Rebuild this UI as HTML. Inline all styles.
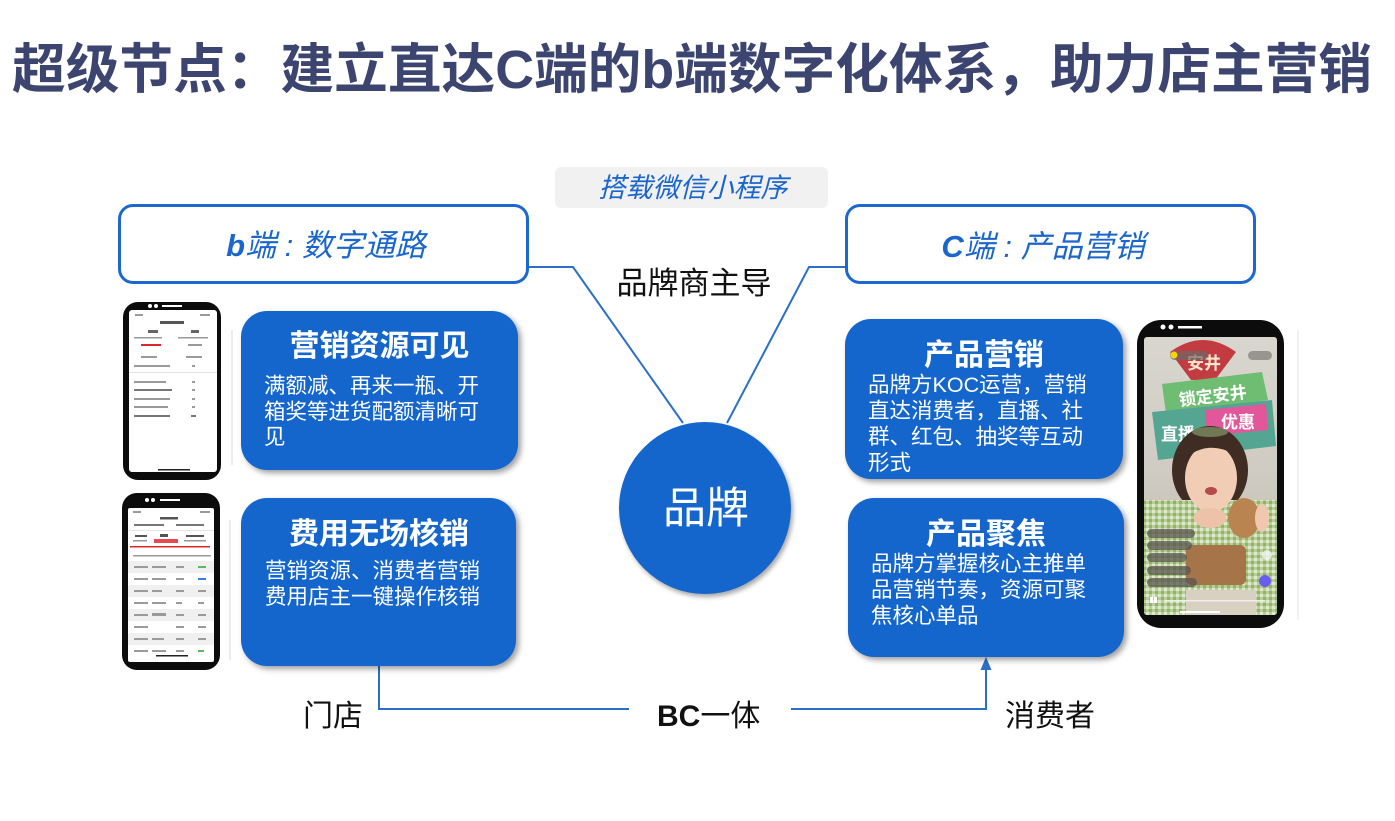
<!DOCTYPE html>
<html><head><meta charset="utf-8">
<style>
html,body{margin:0;padding:0;background:#fff;}
body{width:1395px;height:821px;position:relative;overflow:hidden;font-family:"Liberation Sans","Noto Sans CJK SC",sans-serif;}
.t{position:absolute;white-space:nowrap;}
.box{position:absolute;background:#1466cc;border-radius:26px;box-shadow:3px 3px 6px rgba(0,0,0,0.38);}
.ob{position:absolute;border:3px solid #1b68cf;border-radius:15px;background:#fff;box-sizing:border-box;}
.w{color:#fff;font-size:21.5px;line-height:21.5px;}
.h{color:#fff;font-size:30px;line-height:30px;font-weight:bold;text-align:center;}
.bl{color:#111;font-size:30px;line-height:30px;}
</style></head><body>

<!-- Title -->
<div class="t" style="left:12px;top:44px;font-size:53.7px;line-height:53.7px;font-weight:bold;color:#3c4470;">超级节点：建立直达C端的b端数字化体系，助力店主营销</div>

<!-- gray label -->
<div style="position:absolute;left:555px;top:167px;width:273px;height:41px;background:#f1f1f1;border-radius:6px;"></div>
<div class="t" style="left:555px;width:276px;top:174.5px;font-size:27px;line-height:27px;color:#1a66cc;font-style:italic;text-align:center;">搭载微信小程序</div>

<!-- outline boxes -->
<div class="ob" style="left:118px;top:204px;width:411px;height:80px;"></div>
<div class="ob" style="left:845px;top:204px;width:411px;height:80px;"></div>
<div class="t" style="left:126px;width:400px;top:229.5px;font-size:31px;line-height:31px;color:#1a66cc;font-style:italic;text-align:center;"><b>b</b>端 : 数字通路</div>
<div class="t" style="left:843px;width:400px;top:230.5px;font-size:31px;line-height:31px;color:#1a66cc;font-style:italic;text-align:center;"><b>C</b>端 : 产品营销</div>

<!-- SVG lines and phones -->
<svg width="1395" height="821" style="position:absolute;left:0;top:0;" xmlns="http://www.w3.org/2000/svg">
  <g fill="none" stroke="#2b70c8" stroke-width="2">
    <polyline points="529,267 573,267 683,423"/>
    <polyline points="727,423 809,267 845,267"/>
    <polyline points="379,666 379,709 629,709"/>
    <polyline points="791,709 986,709 986,668"/>
  </g>
  <polygon points="986,657 980.5,670 991.5,670" fill="#2b70c8"/>

  <line x1="232" y1="330" x2="232" y2="465" stroke="#d8d8d8" stroke-width="1"/>
  <line x1="230" y1="520" x2="230" y2="660" stroke="#d8d8d8" stroke-width="1"/>
  <line x1="1298" y1="330" x2="1298" y2="620" stroke="#e6e6e6" stroke-width="1"/>

  <!-- left phone 1 -->
  <rect x="123" y="302" width="98" height="178" rx="15" fill="#0c0c0c"/>
  <rect x="129" y="310" width="88" height="162" rx="3" fill="#fff"/>
  <circle cx="150" cy="306" r="2" fill="#fff"/><circle cx="156" cy="306" r="2" fill="#fff"/>
  <rect x="162" y="305" width="20" height="2" fill="#fff"/>
  <g fill="#9a9a9a">
    <rect x="135" y="314" width="8" height="2"/><rect x="200" y="314" width="10" height="2"/>
    <rect x="160" y="321" width="24" height="3" fill="#555"/>
    <rect x="148" y="330" width="10" height="3" fill="#666"/><rect x="191" y="330" width="8" height="3" fill="#666"/>
    <rect x="134" y="337" width="28" height="1.5"/><rect x="178" y="337" width="30" height="1.5"/>
    <rect x="141" y="344" width="20" height="2" fill="#e0262b"/><rect x="188" y="344" width="14" height="2"/>
    <rect x="141" y="356" width="16" height="2"/><rect x="186" y="356" width="16" height="2"/>
    <rect x="134" y="365" width="36" height="2"/><rect x="192" y="365" width="3" height="2"/>
    <rect x="129" y="372" width="88" height="0.8" fill="#ddd"/>
    <rect x="134" y="381" width="32" height="2"/><rect x="192" y="381" width="3" height="2"/>
    <rect x="134" y="389" width="38" height="2" fill="#777"/><rect x="192" y="389" width="3" height="2"/>
    <rect x="134" y="398" width="36" height="2"/><rect x="192" y="398" width="3" height="2"/>
    <rect x="134" y="406" width="34" height="2"/><rect x="192" y="406" width="3" height="2"/>
    <rect x="134" y="415" width="36" height="2" fill="#777"/><rect x="191" y="415" width="5" height="2" fill="#777"/>
    <rect x="158" y="469" width="32" height="1.5" fill="#222"/>
  </g>

  <!-- left phone 2 -->
  <rect x="122" y="493" width="98" height="177" rx="15" fill="#0c0c0c"/>
  <rect x="128" y="508" width="86" height="154" rx="2" fill="#fff"/>
  <circle cx="147" cy="500" r="2" fill="#fff"/><circle cx="153" cy="500" r="2" fill="#fff"/>
  <rect x="160" y="499" width="20" height="2" fill="#fff"/>
  <g fill="#9a9a9a">
    <rect x="133" y="511" width="8" height="2"/><rect x="200" y="511" width="10" height="2"/>
    <rect x="160" y="517" width="18" height="2.5" fill="#555"/>
    <rect x="134" y="524" width="30" height="2" fill="#777"/><rect x="176" y="524" width="28" height="2" fill="#777"/>
    <rect x="128" y="530" width="86" height="0.8" fill="#ddd"/>
    <rect x="135" y="535" width="12" height="2" fill="#555"/><rect x="160" y="534" width="8" height="3" fill="#555"/><rect x="186" y="535" width="18" height="2" fill="#555"/>
    <rect x="133" y="540" width="14" height="1.5"/><rect x="154" y="539" width="24" height="4" fill="#e84a4f"/><rect x="184" y="540" width="22" height="1.5"/>
    <rect x="130" y="546" width="80" height="1.5" fill="#e0262b"/>
    <rect x="133" y="555" width="78" height="1.5"/>
    <rect x="128" y="561" width="86" height="12" fill="#f0f0f0"/>
    <rect x="128" y="585" width="86" height="12" fill="#f0f0f0"/>
    <rect x="128" y="609" width="86" height="12" fill="#f0f0f0"/>
    <rect x="128" y="633" width="86" height="12" fill="#f0f0f0"/>
    <rect x="134" y="566" width="14" height="2"/><rect x="152" y="566" width="14" height="2"/><rect x="176" y="566" width="8" height="2"/><rect x="198" y="566" width="8" height="2" fill="#5cb85c"/>
    <rect x="134" y="578" width="14" height="2"/><rect x="152" y="578" width="14" height="2"/><rect x="176" y="578" width="8" height="2"/><rect x="198" y="578" width="8" height="2" fill="#3b7ddd"/>
    <rect x="134" y="590" width="14" height="2"/><rect x="152" y="590" width="10" height="2"/><rect x="176" y="590" width="8" height="2"/><rect x="198" y="590" width="8" height="2"/>
    <rect x="134" y="602" width="14" height="2"/><rect x="152" y="602" width="14" height="2"/><rect x="176" y="602" width="6" height="2"/><rect x="198" y="602" width="6" height="2"/>
    <rect x="134" y="614" width="14" height="2"/><rect x="152" y="613" width="14" height="3"/><rect x="176" y="614" width="8" height="2"/><rect x="198" y="614" width="8" height="2"/>
    <rect x="134" y="626" width="14" height="2"/><rect x="176" y="626" width="8" height="2"/><rect x="198" y="626" width="8" height="2"/>
    <rect x="134" y="638" width="14" height="2"/><rect x="152" y="638" width="12" height="2"/><rect x="176" y="638" width="8" height="2"/><rect x="198" y="638" width="8" height="2"/>
    <rect x="134" y="650" width="14" height="2"/><rect x="152" y="650" width="14" height="2"/><rect x="176" y="650" width="8" height="2"/><rect x="198" y="650" width="6" height="2" fill="#5cb85c"/>
    <rect x="156" y="655" width="32" height="1.5" fill="#222"/>
  </g>

  <!-- right phone -->
  <rect x="1137" y="320" width="147" height="308" rx="24" fill="#0c0c0c"/>
  <defs>
    <clipPath id="scr"><rect x="1144" y="337" width="133" height="278" rx="3"/></clipPath>
    <linearGradient id="bg" x1="0" y1="0" x2="0" y2="1">
      <stop offset="0" stop-color="#d9d6cf"/><stop offset="0.5" stop-color="#cfcbc3"/><stop offset="1" stop-color="#b9b59f"/>
    </linearGradient>
    <pattern id="chk" width="6" height="6" patternUnits="userSpaceOnUse">
      <rect width="6" height="6" fill="#b7cf94"/><rect width="3" height="3" fill="#dfe8cf"/><rect x="3" y="3" width="3" height="3" fill="#8fb46a"/>
    </pattern>
  </defs>
  <circle cx="1163" cy="327" r="2.5" fill="#fff"/><circle cx="1171" cy="327" r="2.5" fill="#fff"/>
  <rect x="1178" y="326" width="24" height="2.5" fill="#fff"/>
  <g clip-path="url(#scr)">
    <rect x="1144" y="337" width="133" height="278" fill="url(#bg)"/>
    <path d="M1170,352 Q1203,328 1236,352 L1215,380 L1191,380 Z" fill="#c23b40"/>
    <text x="1204" y="369" font-size="17" fill="#f5e6d0" text-anchor="middle" font-family="Noto Sans CJK SC, sans-serif" font-weight="bold">安井</text>
    <rect x="1170" y="351" width="38" height="9" rx="4.5" fill="#6c6a66" opacity="0.7"/>
    <circle cx="1174" cy="355" r="3.5" fill="#f5d400"/>
    <rect x="1248" y="351" width="24" height="9" rx="4.5" fill="#6c6a66" opacity="0.6"/>
    <polygon points="1162,384 1262,372 1268,400 1166,414" fill="#6ebd72"/>
    <text x="1213" y="402" font-size="17" fill="#fff" text-anchor="middle" font-family="Noto Sans CJK SC, sans-serif" font-weight="bold" transform="rotate(-7 1213 398)">锁定安井</text>
    <polygon points="1152,412 1272,400 1276,446 1158,460" fill="#55a593"/>
    <polygon points="1205,410 1266,404 1268,430 1207,436" fill="#e2569a"/>
    <text x="1178" y="440" font-size="17" fill="#fff" text-anchor="middle" font-family="Noto Sans CJK SC, sans-serif" font-weight="bold">直播</text>
    <text x="1238" y="428" font-size="17" fill="#fff" text-anchor="middle" font-family="Noto Sans CJK SC, sans-serif" font-weight="bold">优惠</text>
    <ellipse cx="1210" cy="470" rx="38" ry="44" fill="#3f2c22"/>
    <rect x="1144" y="500" width="133" height="115" fill="url(#chk)"/>
    <ellipse cx="1211" cy="478" rx="26" ry="34" fill="#f2cdb6"/>
    <ellipse cx="1210" cy="518" rx="16" ry="10" fill="#eec2a8"/>
    <path d="M1188,448 Q1210,430 1236,448 L1236,455 Q1210,440 1188,456 Z" fill="#3f2c22"/>
    <ellipse cx="1210" cy="432" rx="18" ry="5" fill="#6f7a55"/>
    <ellipse cx="1211" cy="491" rx="6" ry="4" fill="#b54a4a"/>
    <ellipse cx="1244" cy="518" rx="16" ry="20" fill="#b9844f"/>
    <ellipse cx="1262" cy="518" rx="7" ry="14" fill="#f0c8b0"/>
    <rect x="1186" y="545" width="60" height="40" rx="6" fill="#a57448"/>
    <rect x="1186" y="590" width="70" height="25" fill="#d8d0c0"/>
    <g fill="#5a5550" opacity="0.75">
      <rect x="1147" y="529" width="48" height="9" rx="4.5"/>
      <rect x="1147" y="541" width="45" height="9" rx="4.5"/>
      <rect x="1147" y="553" width="40" height="9" rx="4.5"/>
      <rect x="1147" y="566" width="44" height="9" rx="4.5"/>
      <rect x="1147" y="578" width="50" height="9" rx="4.5"/>
    </g>
    <circle cx="1267" cy="555" r="5" fill="#f4f4f4" opacity="0.8"/>
    <circle cx="1265" cy="581" r="6" fill="#6b5cf0"/>
    <rect x="1150" y="597" width="3" height="6" fill="#fff"/><rect x="1154" y="597" width="3" height="6" fill="#fff"/>
    <rect x="1165" y="600" width="100" height="1.5" fill="#eee"/>
    <rect x="1180" y="611" width="40" height="2" fill="#fff"/>
  </g>
</svg>

<!-- center circle -->
<div style="position:absolute;left:619px;top:422px;width:172px;height:172px;border-radius:50%;background:#1466cc;box-shadow:2px 3px 5px rgba(0,0,0,0.35);"></div>
<div class="t" style="left:620px;width:172px;top:488px;font-size:43px;line-height:43px;color:#fff;text-align:center;">品牌</div>

<div class="t" style="left:594px;width:200px;top:268px;font-size:31px;line-height:31px;color:#111;text-align:center;">品牌商主导</div>

<!-- blue boxes -->
<div class="box" style="left:241px;top:311px;width:277px;height:159px;"></div>
<div class="box" style="left:241px;top:498px;width:275px;height:168px;"></div>
<div class="box" style="left:845px;top:319px;width:278px;height:160px;"></div>
<div class="box" style="left:848px;top:498px;width:276px;height:159px;"></div>

<!-- L1 -->
<div class="t h" style="left:241px;width:277px;top:332px;">营销资源可见</div>
<div class="t w" style="left:264px;top:376px;">满额减、再来一瓶、开</div>
<div class="t w" style="left:264px;top:401.5px;">箱奖等进货配额清晰可</div>
<div class="t w" style="left:264px;top:427px;">见</div>

<!-- L2 -->
<div class="t h" style="left:241px;width:276px;top:520px;">费用无场核销</div>
<div class="t w" style="left:265px;top:561px;">营销资源、消费者营销</div>
<div class="t w" style="left:265px;top:587px;">费用店主一键操作核销</div>

<!-- R1 -->
<div class="t h" style="left:845px;width:278px;top:341px;">产品营销</div>
<div class="t w" style="left:868px;top:375px;">品牌方KOC运营，营销</div>
<div class="t w" style="left:868px;top:400.5px;">直达消费者，直播、社</div>
<div class="t w" style="left:868px;top:426.5px;">群、红包、抽奖等互动</div>
<div class="t w" style="left:868px;top:452.5px;">形式</div>

<!-- R2 -->
<div class="t h" style="left:848px;width:276px;top:519.5px;">产品聚焦</div>
<div class="t w" style="left:871px;top:554px;">品牌方掌握核心主推单</div>
<div class="t w" style="left:871px;top:580px;">品营销节奏，资源可聚</div>
<div class="t w" style="left:871px;top:606px;">焦核心单品</div>

<!-- bottom labels -->
<div class="t bl" style="left:303px;top:702px;">门店</div>
<div class="t bl" style="left:657px;top:702px;"><b>BC</b>一体</div>
<div class="t bl" style="left:1005px;top:702px;">消费者</div>

</body></html>
